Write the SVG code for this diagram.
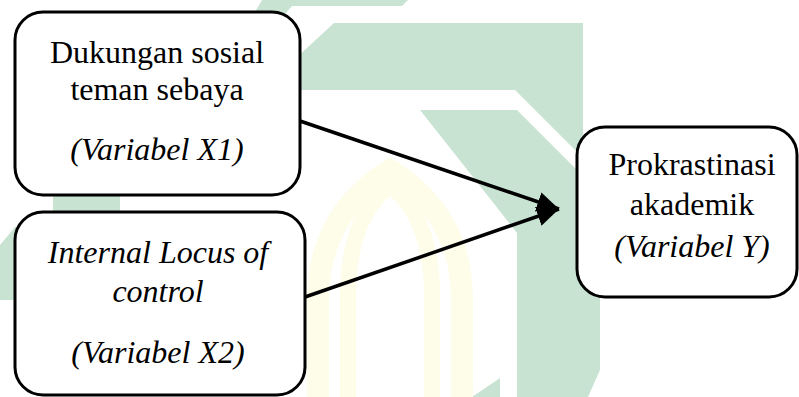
<svg xmlns="http://www.w3.org/2000/svg" width="799" height="397" viewBox="0 0 799 397">
  <style>
    .wm { fill: #c9e3d3; }
    .wy { fill: none; stroke: #fefdea; }
    .box { fill: #ffffff; stroke: #000000; stroke-width: 3; }
    .conn { stroke: #000000; stroke-width: 3.5; fill: none; }
  </style>
  <defs>
    <marker id="ah" markerUnits="userSpaceOnUse" markerWidth="24" markerHeight="20" refX="22" refY="10" orient="auto">
      <path d="M0,0 L22,10 L0,20 Z" fill="#000000"/>
    </marker>
  </defs>
  <rect width="799" height="397" fill="#ffffff"/>
  <g id="watermark">
    <path class="wm" d="M262,0 L408,0 L402,6 L292,6 L244,62 L226,62 Z"/>
    <path class="wm" d="M334,23 L583,23 L583,158 L515,90 L296,90 L296,58 Z"/>
    <path class="wm" d="M420,110 L517,110 L600,193 L600,370 L588,397 L517,397 L517,233 Z"/>
    <path class="wm" d="M500,378 L500,397 L472,397 Z"/>
    <rect class="wm" x="53" y="195" width="67" height="20"/>
    <path class="wm" d="M0,245 L16,226 L16,300 L0,300 Z"/>
    <path class="wy" stroke-width="22" d="M318,397 L318,300 Q318,215 390,170 Q462,215 462,300 L462,397"/>
    <path class="wy" stroke-width="16" d="M348,397 L348,290 Q350,215 390,186 Q430,215 432,290 L432,397"/>
  </g>
  <g id="connectors">
    <line class="conn" x1="300" y1="121" x2="559" y2="209" marker-end="url(#ah)"/>
    <line class="conn" x1="305" y1="297" x2="559" y2="209" marker-end="url(#ah)"/>
  </g>
  <g id="node-x1">
    <rect class="box" x="15" y="12" width="285" height="183" rx="28"/>
    <text x="157" y="63" font-family="Liberation Serif" font-size="32" text-anchor="middle">Dukungan sosial</text>
    <text x="157" y="100" font-family="Liberation Serif" font-size="32" text-anchor="middle">teman sebaya</text>
    <text x="157" y="160" font-family="Liberation Serif" font-size="32" font-style="italic" text-anchor="middle">(Variabel X1)</text>
  </g>
  <g id="node-x2">
    <rect class="box" x="15" y="212" width="290" height="183" rx="28"/>
    <text x="158" y="263" font-family="Liberation Serif" font-size="32" font-style="italic" text-anchor="middle">Internal Locus of</text>
    <text x="158" y="302" font-family="Liberation Serif" font-size="32" font-style="italic" text-anchor="middle">control</text>
    <text x="158" y="363" font-family="Liberation Serif" font-size="32" font-style="italic" text-anchor="middle">(Variabel X2)</text>
  </g>
  <g id="node-y">
    <rect class="box" x="577" y="127" width="220" height="170" rx="28"/>
    <text x="692" y="175" font-family="Liberation Serif" font-size="32" text-anchor="middle">Prokrastinasi</text>
    <text x="692" y="215" font-family="Liberation Serif" font-size="32" text-anchor="middle">akademik</text>
    <text x="692" y="257" font-family="Liberation Serif" font-size="32" font-style="italic" text-anchor="middle">(Variabel Y)</text>
  </g>
</svg>
